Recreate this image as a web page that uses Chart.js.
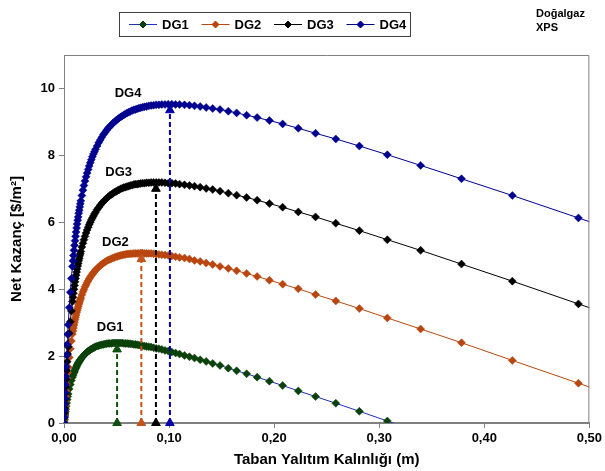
<!DOCTYPE html>
<html>
<head>
<meta charset="utf-8">
<script src="https://cdn.jsdelivr.net/npm/chart.js@4.4.0/dist/chart.umd.min.js"></script>
<style>
  html, body { margin: 0; padding: 0; background: #fff; }
</style>
</head>
<body>
<canvas id="lineChart" width="605" height="471"></canvas>
<script>
// taban yalıtım kalınlığı (m)
const thickness = [
  0, 0.0002, 0.0004, 0.0006, 0.0008, 0.001, 0.0013, 0.0016, 0.002, 0.0025,
  0.003, 0.0035, 0.004, 0.005, 0.006, 0.007, 0.008, 0.0085, 0.009, 0.0095,
  0.010, 0.0105, 0.011, 0.0115, 0.012, 0.0125, 0.013, 0.0135, 0.014, 0.0145,
  0.015, 0.0155, 0.016, 0.017, 0.018, 0.019, 0.020, 0.021, 0.022, 0.023,
  0.024, 0.025, 0.026, 0.027, 0.028, 0.029, 0.030, 0.0315, 0.033, 0.0345,
  0.036, 0.0375, 0.039, 0.0405, 0.042, 0.0435, 0.045, 0.0465, 0.048, 0.0495,
  0.051, 0.0525, 0.054, 0.0555, 0.057, 0.0585, 0.060, 0.0615, 0.063, 0.0648,
  0.0665, 0.068, 0.0696, 0.0712, 0.0729, 0.0747, 0.0766, 0.0786, 0.0807, 0.0829,
  0.0853, 0.0877, 0.0903, 0.0931, 0.0961, 0.0992, 0.1026, 0.1062, 0.110, 0.1147,
  0.1194, 0.1242, 0.1296, 0.1353, 0.1415, 0.1485, 0.1564, 0.1643, 0.1738, 0.1838,
  0.1955, 0.2081, 0.2230, 0.2394, 0.2587, 0.2811, 0.3077, 0.3394, 0.3783, 0.4267,
  0.4896, 0.576
];

// net kazanç ($/m2)
const dg1 = [
  0, 0.06, 0.11, 0.17, 0.22, 0.27, 0.34, 0.41, 0.50, 0.60,
  0.70, 0.79, 0.87, 1.02, 1.15, 1.27, 1.37, 1.42, 1.47, 1.51,
  1.55, 1.59, 1.63, 1.66, 1.70, 1.73, 1.76, 1.79, 1.81, 1.84,
  1.87, 1.89, 1.91, 1.96, 1.99, 2.03, 2.06, 2.09, 2.12, 2.15,
  2.17, 2.19, 2.21, 2.23, 2.25, 2.26, 2.28, 2.30, 2.31, 2.33,
  2.34, 2.35, 2.36, 2.37, 2.38, 2.38, 2.38, 2.39, 2.39, 2.39,
  2.39, 2.39, 2.39, 2.39, 2.38, 2.38, 2.38, 2.37, 2.37, 2.36,
  2.35, 2.35, 2.34, 2.33, 2.32, 2.31, 2.30, 2.29, 2.28, 2.27,
  2.25, 2.23, 2.22, 2.20, 2.17, 2.15, 2.12, 2.09, 2.06, 2.02,
  1.98, 1.94, 1.89, 1.84, 1.78, 1.72, 1.64, 1.56, 1.47, 1.37,
  1.25, 1.12, 0.96, 0.79, 0.59, 0.35, 0.06, -0.28, -0.71, -1.24,
  -1.94, -2.90
];
const dg2 = [
  0, 0.11, 0.22, 0.32, 0.42, 0.52, 0.66, 0.79, 0.96, 1.16,
  1.34, 1.51, 1.67, 1.96, 2.22, 2.45, 2.66, 2.75, 2.84, 2.93,
  3.01, 3.09, 3.16, 3.23, 3.30, 3.36, 3.42, 3.48, 3.54, 3.59,
  3.65, 3.70, 3.74, 3.83, 3.92, 3.99, 4.07, 4.13, 4.20, 4.25,
  4.31, 4.36, 4.41, 4.45, 4.49, 4.53, 4.57, 4.62, 4.66, 4.71,
  4.74, 4.78, 4.81, 4.84, 4.87, 4.89, 4.91, 4.93, 4.95, 4.97,
  4.98, 5.00, 5.01, 5.02, 5.03, 5.04, 5.05, 5.05, 5.06, 5.06,
  5.07, 5.07, 5.07, 5.07, 5.08, 5.08, 5.07, 5.07, 5.07, 5.07,
  5.06, 5.05, 5.04, 5.03, 5.02, 5.01, 4.99, 4.97, 4.95, 4.93,
  4.90, 4.86, 4.83, 4.78, 4.74, 4.68, 4.62, 4.55, 4.47, 4.38,
  4.27, 4.15, 4.01, 3.84, 3.65, 3.42, 3.14, 2.81, 2.40, 1.87,
  1.19, 0.24
];
const dg3 = [
  0, 0.15, 0.30, 0.44, 0.57, 0.70, 0.89, 1.08, 1.31, 1.57,
  1.83, 2.06, 2.28, 2.68, 3.03, 3.35, 3.63, 3.76, 3.88, 4.00,
  4.11, 4.22, 4.32, 4.42, 4.51, 4.60, 4.69, 4.77, 4.85, 4.92,
  5.00, 5.06, 5.13, 5.26, 5.37, 5.48, 5.58, 5.68, 5.77, 5.85,
  5.93, 6.00, 6.07, 6.13, 6.19, 6.25, 6.30, 6.38, 6.44, 6.51,
  6.57, 6.62, 6.67, 6.71, 6.76, 6.80, 6.83, 6.86, 6.90, 6.92,
  6.95, 6.97, 7.00, 7.02, 7.04, 7.05, 7.07, 7.08, 7.10, 7.11,
  7.13, 7.14, 7.14, 7.15, 7.16, 7.17, 7.17, 7.18, 7.18, 7.19,
  7.19, 7.19, 7.19, 7.19, 7.18, 7.17, 7.17, 7.16, 7.14, 7.12,
  7.10, 7.08, 7.05, 7.01, 6.98, 6.93, 6.87, 6.81, 6.74, 6.66,
  6.56, 6.45, 6.31, 6.16, 5.97, 5.75, 5.48, 5.16, 4.75, 4.24,
  3.56, 2.62
];
const dg4 = [
  0, 0.19, 0.38, 0.56, 0.74, 0.91, 1.15, 1.39, 1.68, 2.03,
  2.35, 2.65, 2.94, 3.45, 3.91, 4.32, 4.68, 4.85, 5.01, 5.16,
  5.31, 5.45, 5.58, 5.71, 5.83, 5.95, 6.06, 6.16, 6.27, 6.36,
  6.46, 6.55, 6.64, 6.80, 6.96, 7.10, 7.23, 7.36, 7.47, 7.58,
  7.68, 7.78, 7.87, 7.96, 8.04, 8.11, 8.18, 8.28, 8.38, 8.46,
  8.54, 8.62, 8.68, 8.75, 8.81, 8.86, 8.91, 8.96, 9.00, 9.04,
  9.08, 9.12, 9.15, 9.18, 9.21, 9.24, 9.27, 9.29, 9.31, 9.34,
  9.36, 9.37, 9.39, 9.41, 9.42, 9.44, 9.45, 9.46, 9.48, 9.49,
  9.50, 9.51, 9.51, 9.52, 9.52, 9.53, 9.53, 9.52, 9.52, 9.51,
  9.50, 9.48, 9.46, 9.43, 9.40, 9.37, 9.32, 9.27, 9.20, 9.13,
  9.04, 8.94, 8.81, 8.66, 8.49, 8.28, 8.02, 7.70, 7.30, 6.80,
  6.13, 5.20
];

const seriesNames = ['DG1', 'DG2', 'DG3', 'DG4'];
const seriesValues = [dg1, dg2, dg3, dg4];

// optimum kalınlık okları
const optimumThickness = [0.0505, 0.0736, 0.0875, 0.1008];
const arrowTop = [2.2, 4.9, 7.0, 9.35];

// eğri etiketleri
const labelX = [0.044, 0.049, 0.052, 0.061];
const labelY = [2.87, 5.41, 7.50, 9.86];

const xTicks = [0, 0.1, 0.2, 0.3, 0.4, 0.5];
const yTicks = [0, 2, 4, 6, 8, 10];

const lineColors = ['#1f2fc0', '#b8460e', '#000000', '#000090'];
const markerColors = ['#0b420b', '#b8460e', '#000000', '#000090'];
const arrowColors = ['#0f4f0f', '#c4531c', '#000000', '#0000a8'];

const FONT = 'Arial, "Liberation Sans", sans-serif';

const datasets = [];
seriesNames.forEach((name, i) => {
  datasets.push({
    label: name,
    data: thickness.map((x, j) => ({ x: x, y: seriesValues[i][j] })),
    borderColor: lineColors[i],
    borderWidth: 1,
    pointStyle: 'rectRot',
    pointRadius: 4,
    pointBorderWidth: 0.5,
    pointBackgroundColor: markerColors[i],
    pointBorderColor: markerColors[i],
    order: 4 - i,
  });
});
seriesNames.forEach((name, i) => {
  datasets.push({
    label: name + ' opt',
    data: [{ x: optimumThickness[i], y: 0 }, { x: optimumThickness[i], y: arrowTop[i] }],
    borderColor: arrowColors[i],
    borderWidth: 2,
    borderDash: [5, 3],
    pointStyle: 'triangle',
    pointRadius: 5,
    pointBorderWidth: 1,
    pointBackgroundColor: arrowColors[i],
    pointBorderColor: arrowColors[i],
    clip: 12,
    order: 0,
  });
});

const decorations = {
  id: 'decorations',
  afterDatasetsDraw(chart) {
    const ctx = chart.ctx;
    const xs = chart.scales.x;
    const ys = chart.scales.y;
    const area = chart.chartArea;
    ctx.save();
    // üst ve sağ çerçeve
    ctx.strokeStyle = '#808080';
    ctx.lineWidth = 1;
    ctx.beginPath();
    ctx.moveTo(area.left, area.top + 0.5);
    ctx.lineTo(area.right - 0.5, area.top + 0.5);
    ctx.lineTo(area.right - 0.5, area.bottom);
    ctx.stroke();
    // eğri etiketleri
    ctx.fillStyle = '#000';
    ctx.font = 'bold 13px ' + FONT;
    ctx.textAlign = 'center';
    ctx.textBaseline = 'middle';
    seriesNames.forEach((name, i) => {
      ctx.fillText(name, xs.getPixelForValue(labelX[i]), ys.getPixelForValue(labelY[i]));
    });
    ctx.restore();
  },
  afterDraw(chart) {
    const ctx = chart.ctx;
    ctx.save();
    // lejant
    ctx.fillStyle = '#fff';
    ctx.fillRect(119, 12, 291, 24);
    ctx.strokeStyle = '#404040';
    ctx.lineWidth = 1;
    ctx.strokeRect(119.5, 12.5, 291, 24);
    ctx.font = 'bold 13px ' + FONT;
    ctx.textBaseline = 'middle';
    ctx.textAlign = 'left';
    seriesNames.forEach((name, i) => {
      const x0 = 129 + i * 72.5;
      const y0 = 24.5;
      ctx.strokeStyle = lineColors[i];
      ctx.beginPath();
      ctx.moveTo(x0, y0);
      ctx.lineTo(x0 + 28, y0);
      ctx.stroke();
      ctx.fillStyle = markerColors[i];
      ctx.strokeStyle = markerColors[i];
      Chart.helpers.drawPoint(ctx, { pointStyle: 'rectRot', radius: 3.5, borderWidth: 0.5 }, x0 + 14, y0);
      ctx.fillStyle = '#000';
      ctx.fillText(name, x0 + 33, y0 + 1);
    });
    // sağ üst not
    ctx.font = 'bold 11px ' + FONT;
    ctx.fillText('Doğalgaz', 536, 14);
    ctx.fillText('XPS', 536, 28);
    ctx.restore();
  }
};

new Chart(document.getElementById('lineChart'), {
  type: 'line',
  data: { datasets: datasets },
  options: {
    responsive: false,
    animation: false,
    devicePixelRatio: 1,
    events: [],
    layout: { padding: { top: 55, right: 13, left: 0, bottom: 0 } },
    plugins: { legend: { display: false }, tooltip: { enabled: false } },
    scales: {
      x: {
        type: 'linear',
        min: 0,
        max: 0.5,
        afterBuildTicks: (scale) => { scale.ticks = xTicks.map(v => ({ value: v })); },
        afterFit: (scale) => { scale.height = 48; },
        ticks: {
          color: '#000',
          font: { family: FONT, size: 13, weight: 'bold' },
          padding: 3,
          maxRotation: 0,
          callback: (v) => v.toFixed(2).replace('.', ','),
        },
        grid: { drawOnChartArea: false, drawTicks: true, tickLength: 5, color: '#808080' },
        border: { color: '#808080', width: 2 },
        title: {
          display: true,
          text: 'Taban Yalıtım Kalınlığı (m)',
          color: '#000',
          font: { family: FONT, size: 15, weight: 'bold' },
          padding: { top: 0, bottom: 2 },
        },
      },
      y: {
        type: 'linear',
        min: 0,
        max: 11,
        afterBuildTicks: (scale) => { scale.ticks = yTicks.map(v => ({ value: v })); },
        afterFit: (scale) => { scale.width = 64; },
        ticks: {
          color: '#000',
          font: { family: FONT, size: 13, weight: 'bold' },
          padding: 4,
          callback: (v) => String(v),
        },
        grid: { drawOnChartArea: false, drawTicks: true, tickLength: 5, color: '#808080' },
        border: { color: '#808080', width: 1 },
        title: {
          display: true,
          text: 'Net Kazanç [$/m²]',
          color: '#000',
          font: { family: FONT, size: 15, weight: 'bold' },
          padding: { top: 8, bottom: 0 },
        },
      },
    },
  },
  plugins: [decorations],
});
</script>
</body>
</html>
